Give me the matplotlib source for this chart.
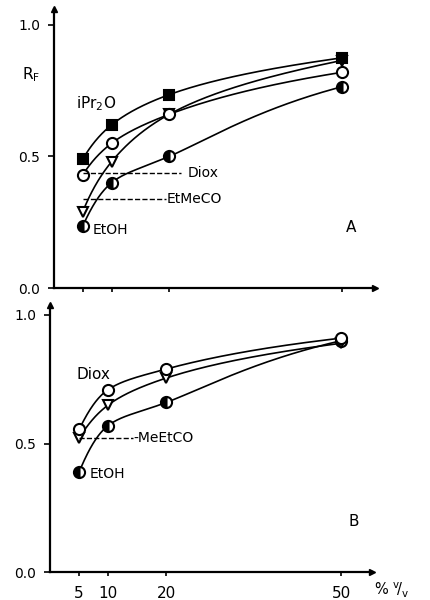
import numpy as np
import matplotlib
matplotlib.use("Agg")
import matplotlib.pyplot as plt

# ---- data ----
conc = [5, 10, 20, 50]
# Panel A
a_ipr2o = [0.49, 0.62, 0.735, 0.875]
a_diox = [0.43, 0.55, 0.66, 0.82]
a_etmeco = [0.29, 0.48, 0.66, 0.865]
a_etoh = [0.236, 0.40, 0.50, 0.765]
# Panel B
b_diox = [0.555, 0.71, 0.79, 0.91]
b_meetco = [0.52, 0.65, 0.755, 0.89]
b_etoh = [0.39, 0.57, 0.66, 0.90]
ytick_vals = [0.0, 0.5, 1.0]
ytick_labels = ["0.0", "0.5", "1.0"]
xtick_labels = ["5", "10", "20", "50"]

plt.rcParams['font.family'] = ['DejaVu Sans']
W, H = 431, 600
fig = plt.figure(figsize=(W / 100, H / 100), dpi=100)


def smooth(x, y, n=200):
    # monotone cubic through the points, in log-concentration space
    x = np.log(np.asarray(x, float)); y = np.asarray(y, float)
    h = np.diff(x); d = np.diff(y) / h
    m = np.zeros_like(y)
    m[0] = d[0]; m[-1] = d[-1]
    for i in range(1, len(x) - 1):
        if d[i - 1] * d[i] <= 0:
            m[i] = 0
        else:
            w1 = 2 * h[i] + h[i - 1]; w2 = h[i] + 2 * h[i - 1]
            m[i] = (w1 + w2) / (w1 / d[i - 1] + w2 / d[i])
    xs = np.linspace(x[0], x[-1], n)
    idx = np.clip(np.searchsorted(x, xs) - 1, 0, len(x) - 2)
    t = (xs - x[idx]) / h[idx]
    h00 = 2 * t**3 - 3 * t**2 + 1; h10 = t**3 - 2 * t**2 + t
    h01 = -2 * t**3 + 3 * t**2; h11 = t**3 - t**2
    ys = h00 * y[idx] + h10 * h[idx] * m[idx] + h01 * y[idx + 1] + h11 * h[idx] * m[idx + 1]
    return np.exp(xs), ys


def setup(ax, xmax, ymax, xlabels):
    ax.set_xlim(0, xmax); ax.set_ylim(0, ymax)
    for s in ['top', 'right']:
        ax.spines[s].set_visible(False)
    for s in ['left', 'bottom']:
        ax.spines[s].set_linewidth(1.6)
    ax.set_yticks(ytick_vals)
    ax.set_yticklabels(ytick_labels, fontsize=10)
    ax.set_xticks(conc)
    if xlabels:
        ax.set_xticklabels(xtick_labels, fontsize=11)
    else:
        ax.set_xticklabels([])
    ax.tick_params(axis='y', direction='out', length=4, width=1.2, pad=6)
    ax.tick_params(axis='x', direction='out', length=3, width=1.2, pad=7)
    ax.plot(1, 0, marker='>', color='k', ms=5, transform=ax.transAxes, clip_on=False)
    ax.plot(0, 1, marker='^', color='k', ms=5, transform=ax.transAxes, clip_on=False)


def series(ax, y, marker, fill, ms=8):
    xs, ys = smooth(conc, y)
    ax.plot(xs, ys, color='k', lw=1.2)
    if fill == 'full':
        ax.plot(conc, y, ls='none', marker=marker, ms=ms, mfc='k', mec='k', mew=1.5)
    elif fill == 'none':
        ax.plot(conc, y, ls='none', marker=marker, ms=ms, mfc='white', mec='k', mew=1.5)
    else:
        ax.plot(conc, y, ls='none', marker=marker, ms=ms, mec='k', mew=1.5,
                fillstyle=fill, mfc='k', mfcalt='white')


# Panel A
axA = fig.add_axes([54 / W, (H - 288) / H, (375 - 54) / W, 1.06 * 263 / H])
setup(axA, 55.8, 1.06, False)
series(axA, a_etoh, 'o', 'left')
series(axA, a_etmeco, 'v', 'none', ms=7.5)
series(axA, a_diox, 'o', 'none')
series(axA, a_ipr2o, 's', 'full', ms=7.5)
axA.plot([5, 22], [0.438, 0.438], 'k--', lw=1)
axA.text(23.2, 0.438, 'Diox', fontsize=10, va='center')
axA.plot([5, 19.5], [0.337, 0.337], 'k--', lw=1)
axA.text(19.6, 0.337, 'EtMeCO', fontsize=10, va='center')
axA.text(6.8, 0.22, 'EtOH', fontsize=10, va='center')
axA.text(3.8, 0.70, r'iPr$_\mathregular{2}$O', fontsize=11, va='center')
axA.text(50.8, 0.23, 'A', fontsize=11, va='center')
axA.text(-5.5, 0.81, r'R$_\mathregular{F}$', fontsize=11, va='center')

# Panel B
axB = fig.add_axes([50 / W, (H - 572) / H, (372 - 50) / W, 1.04 * 257 / H])
setup(axB, 55.3, 1.04, True)
series(axB, b_etoh, 'o', 'left')
series(axB, b_meetco, 'v', 'none', ms=7.5)
series(axB, b_diox, 'o', 'none')
axB.plot([5, 14.2], [0.52, 0.52], 'k--', lw=1)
axB.text(14.3, 0.52, '-MeEtCO', fontsize=10, va='center')
axB.text(6.8, 0.38, 'EtOH', fontsize=10, va='center')
axB.text(4.5, 0.77, 'Diox', fontsize=11, va='center')
axB.text(51.2, 0.195, 'B', fontsize=11, va='center')
fig.text(374 / W, 1 - 590 / H, r'% $\mathregular{^v\!/_v}$', fontsize=10.5, va='center')

fig.savefig('out.png', dpi=100)
